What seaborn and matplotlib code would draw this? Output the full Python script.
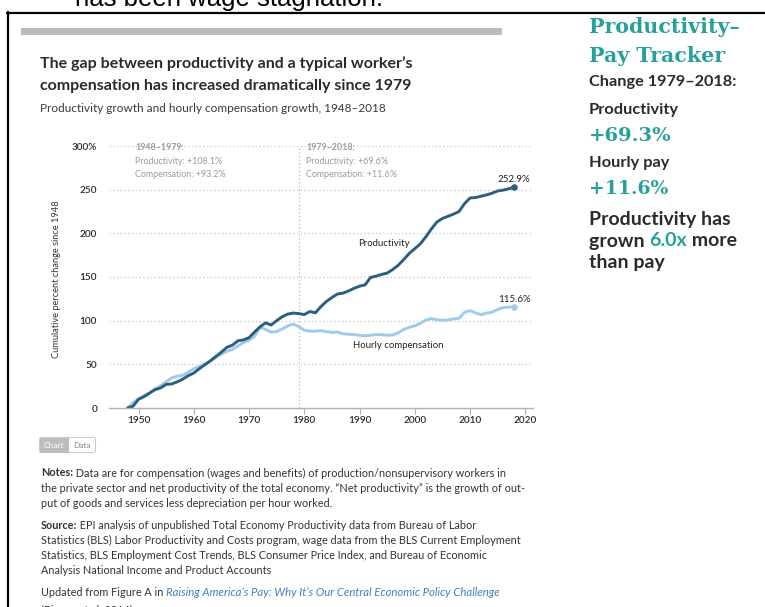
import matplotlib
matplotlib.use("Agg")
import matplotlib.pyplot as plt
import numpy as np
import pandas as pd
import seaborn as sns
from matplotlib.patches import Rectangle, FancyBboxPatch
from matplotlib.lines import Line2D

# Cumulative percent change since 1948
years = list(range(1948, 2019))
productivity = [
    0, 2, 10, 13, 17, 21, 23, 27, 27.5, 30,
    33, 37, 40, 45, 49.5, 54, 59, 64, 69.5, 72,
    77, 78, 80.5, 87, 93, 97.5, 95, 100, 104.5, 107.5,
    108.7, 108.1, 107, 110.5, 109, 116, 122, 126.5, 130.5, 131.5,
    134, 137, 139.5, 141, 149.5, 151, 153, 154.5, 158.5, 163.5,
    170, 177, 182.5, 188, 196, 205, 213, 217, 219.5, 222,
    225, 234, 240.5, 241, 242.5, 244, 246, 248.5, 249.5, 251,
    252.9,
]
compensation = [
    0, 6, 10.5, 14, 17.5, 22, 25.5, 30, 34.5, 36.5,
    37.5, 41, 45, 47.5, 50.5, 53.5, 58, 61.5, 65, 67,
    71, 75, 77.5, 82, 92.5, 90, 87, 87.5, 90.5, 94,
    96, 93.2, 89, 88, 88, 88.6, 87.5, 86.5, 87, 85,
    84.5, 84, 83.3, 82.6, 83.3, 84, 84, 83.3, 83.6, 86,
    90, 92.4, 94, 97, 100.8, 102.3, 101.1, 100.4, 100.8, 101.9,
    102.7, 109.5, 111.4, 109, 106.8, 108.7, 109.8, 112.9, 115, 115.5,
    115.6,
]
series_names = ["Hourly compensation", "Productivity"]
x_ticks = [1950, 1960, 1970, 1980, 1990, 2000, 2010, 2020]
y_ticks = [0, 50, 100, 150, 200, 250, 300]
y_tick_labels = ["0", "50", "100", "150", "200", "250", "300%"]
period_notes = [
    ("1948\u20131979:", "Productivity: +108.1%", "Compensation: +93.2%"),
    ("1979\u20132018:", "Productivity: +69.6%", "Compensation: +11.6%"),
]

W, H = 765, 607
DARK = "#2b5f7e"
LIGHT = "#9fcbea"
TEAL = "#27a09c"
INK = "#2b2b2b"

sns.set_theme(style="white")
plt.rcParams["font.family"] = ["Lato", "DejaVu Sans"]

fig = plt.figure(figsize=(W / 100, H / 100), dpi=100)
renderer = fig.canvas.get_renderer()


def fx(x):
    return x / W


def fy(y):
    return 1 - y / H


def rich(x, y, parts, **common):
    """Place text pieces one after another on a line (pixel coords)."""
    cur = x
    for text, kw in parts:
        opts = dict(common)
        opts.update(kw)
        t = fig.text(fx(cur), fy(y), text, ha="left", va="center", **opts)
        cur += t.get_window_extent(renderer).width
    return cur


# page furniture
fig.text(fx(75), fy(6), "has been wage stagnation.", family="Liberation Sans",
         fontsize=18.5, color="black", ha="left", va="baseline")
fig.add_artist(Line2D([fx(7), fx(W)], [fy(12.5), fy(12.5)], color="black", lw=1.6))
fig.add_artist(Line2D([fx(8), fx(8)], [fy(12), fy(H)], color="black", lw=1.6))
fig.add_artist(Rectangle((fx(21), fy(35)), (502 - 21) / W, 7 / H,
                         facecolor="#bbbbbb", edgecolor="none"))

# headline
fig.text(fx(40), fy(64), "The gap between productivity and a typical worker\u2019s",
         fontsize=11.5, weight="bold", color=INK, va="center")
fig.text(fx(40), fy(86), "compensation has increased dramatically since 1979",
         fontsize=11.5, weight="bold", color=INK, va="center")
fig.text(fx(40), fy(109), "Productivity growth and hourly compensation growth, 1948\u20132018",
         fontsize=8.5, color="#3a3a3a", va="center")

# chart
ax = fig.add_axes([fx(109), fy(408), (533 - 109) / W, (408 - 146) / H])
df = pd.DataFrame({
    "year": years * 2,
    "value": compensation + productivity,
    "series": [series_names[0]] * len(years) + [series_names[1]] * len(years),
})
sns.lineplot(data=df, x="year", y="value", hue="series", hue_order=series_names,
             palette={series_names[0]: LIGHT, series_names[1]: DARK},
             linewidth=2.1, legend=False, ax=ax, sort=False)
ax.scatter([years[-1]], [compensation[-1]], s=14, color=LIGHT, zorder=4)
ax.scatter([years[-1]], [productivity[-1]], s=14, color=DARK, zorder=4)

ax.set_xlim(1944.66, 2021.39)
ax.set_ylim(0, 300)
for yv in y_ticks[1:]:
    ax.axhline(yv, color="#c8c8c8", lw=0.9, ls=(0, (1, 2)), zorder=0)
ax.axvline(1979, color="#b5b5b5", lw=0.9, ls=(0, (1, 2)), zorder=0)

for s in ("top", "right", "left"):
    ax.spines[s].set_visible(False)
ax.spines["bottom"].set_color("#b0b0b0")
ax.spines["bottom"].set_linewidth(1.0)
ax.set_xticks(x_ticks)
ax.set_xticklabels([str(v) for v in x_ticks], fontweight="semibold")
ax.set_yticks(y_ticks)
ax.set_yticklabels(y_tick_labels, fontweight="semibold")
ax.tick_params(axis="x", bottom=True, length=4, width=0.8, color="#b0b0b0",
               labelsize=7.2, labelcolor="#2a2a2a", pad=2)
ax.tick_params(axis="y", left=False, length=0, labelsize=7.2,
               labelcolor="#2a2a2a", pad=8.6)
ax.set_xlabel("")
ax.set_ylabel("")
ax.set_facecolor("white")

fig.text(fx(57), fy(279), "Cumulative percent change since 1948", rotation=90,
         fontsize=6.7, color="#333333", ha="center", va="center")

# period summaries
for x0, (head, l1, l2) in zip((135, 306), period_notes):
    fig.text(fx(x0), fy(147), head, fontsize=6.4, weight="bold", color="#9a9a9a", va="center")
    fig.text(fx(x0), fy(161.5), l1, fontsize=6.4, color="#9a9a9a", va="center")
    fig.text(fx(x0), fy(174.5), l2, fontsize=6.4, color="#9a9a9a", va="center")

# series labels
fig.text(fx(384), fy(243), series_names[1], fontsize=6.9, color="#222222",
         ha="center", va="center")
fig.text(fx(398), fy(345), series_names[0], fontsize=6.9, color="#222222",
         ha="center", va="center")
ax.annotate(f"{productivity[-1]:.1f}%", (years[-1], productivity[-1]),
            xytext=(0, 2.5), textcoords="offset points", ha="center", va="bottom",
            fontsize=7.0, color="#222222")
ax.annotate(f"{compensation[-1]:.1f}%", (years[-1], compensation[-1]),
            xytext=(0, 2.5), textcoords="offset points", ha="center", va="bottom",
            fontsize=7.0, color="#222222")

# chart / data toggle
fig.add_artist(FancyBboxPatch((fx(39.5), fy(452.5)), 56 / W, 15 / H,
                              boxstyle="round,pad=0,rounding_size=0.003",
                              facecolor="white", edgecolor="#cccccc", lw=0.8))
fig.add_artist(Rectangle((fx(39.5), fy(452.5)), 29.5 / W, 15 / H,
                         facecolor="#bdbdbd", edgecolor="none"))
fig.text(fx(54), fy(445), "Chart", fontsize=6.0, color="white", ha="center", va="center")
fig.text(fx(82.5), fy(445), "Data", fontsize=6.0, color="#888888", ha="center", va="center")

# notes and source
NFS = 7.8
NC = "#333333"
rich(41, 473, [("Notes:", {"weight": "bold"}),
               (" Data are for compensation (wages and benefits) of production/nonsupervisory workers in", {})],
     fontsize=NFS, color=NC)
fig.text(fx(41), fy(488), "the private sector and net productivity of the total economy. \u201cNet productivity\u201d is the growth of out-",
         fontsize=NFS, color=NC, va="center")
fig.text(fx(41), fy(503.5), "put of goods and services less depreciation per hour worked.",
         fontsize=NFS, color=NC, va="center")
rich(41, 525.5, [("Source:", {"weight": "bold"}),
                 (" EPI analysis of unpublished Total Economy Productivity data from Bureau of Labor", {})],
     fontsize=NFS, color=NC)
source_lines = [
    "Statistics (BLS) Labor Productivity and Costs program, wage data from the BLS Current Employment",
    "Statistics, BLS Employment Cost Trends, BLS Consumer Price Index, and Bureau of Economic",
    "Analysis National Income and Product Accounts",
]
for i, line in enumerate(source_lines):
    fig.text(fx(41), fy(540.5 + 15.2 * i), line, fontsize=NFS, color=NC, va="center")
rich(41, 592.5, [("Updated from Figure A in ", {}),
                 ("Raising America\u2019s Pay: Why It\u2019s Our Central Economic Policy Challenge",
                  {"style": "italic", "color": "#3f7fc0", "fontsize": 8.2})],
     fontsize=NFS, color=NC)
fig.text(fx(41), fy(610), "(Bivens et al. 2014)", fontsize=NFS, color=NC, va="center")

# tracker panel
SERIF = "DejaVu Serif"
fig.text(fx(589), fy(33), "Productivity\u2013", family=SERIF, fontsize=14.8,
         weight="bold", color=TEAL, va="baseline")
fig.text(fx(589), fy(61.5), "Pay Tracker", family=SERIF, fontsize=14.8,
         weight="bold", color=TEAL, va="baseline")
fig.text(fx(589), fy(82), "Change 1979\u20132018:", fontsize=11.7, weight="bold",
         color=INK, va="center")
fig.text(fx(589), fy(110), "Productivity", fontsize=11.8, weight="bold",
         color=INK, va="center")
fig.text(fx(589), fy(136), "+69.3%", family=SERIF, fontsize=14, weight="bold",
         color=TEAL, va="center")
fig.text(fx(589), fy(163), "Hourly pay", fontsize=11.8, weight="bold",
         color=INK, va="center")
fig.text(fx(589), fy(189), "+11.6%", family=SERIF, fontsize=13.5, weight="bold",
         color=TEAL, va="center")
fig.text(fx(589), fy(219), "Productivity has", fontsize=14.0, weight="bold",
         color=INK, va="center")
rich(589, 241, [("grown ", {}), ("6.0x", {"color": TEAL}), (" more", {})],
     fontsize=14.0, weight="bold", color=INK)
fig.text(fx(589), fy(263), "than pay", fontsize=14.0, weight="bold",
         color=INK, va="center")

fig.savefig("out.png", dpi=100, facecolor="white")
